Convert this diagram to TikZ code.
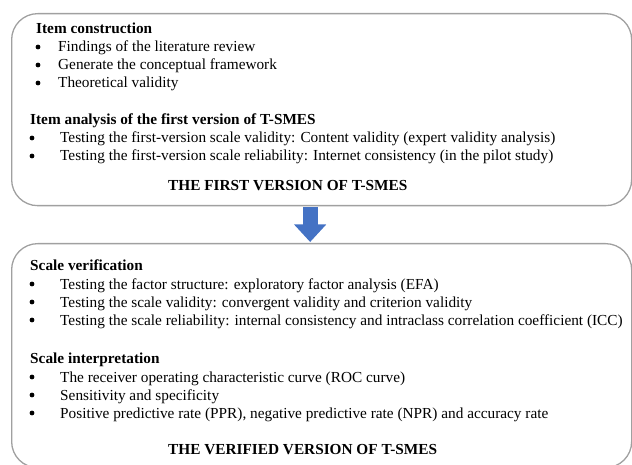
\documentclass[tikz,border=0pt]{standalone}
\usepackage{fontspec}
\setmainfont{Liberation Serif}
\usetikzlibrary{arrows.meta}
\definecolor{boxgray}{RGB}{160,160,160}
\definecolor{arrowblue}{RGB}{68,114,196}
\tikzset{
  stage/.style={draw=boxgray, line width=1.3pt, rounded corners=26pt, inner sep=0pt},
  head/.style={anchor=base west, inner sep=0pt, font=\fontsize{15.3}{18}\selectfont\bfseries},
  item/.style={anchor=base west, inner sep=0pt, font=\fontsize{15.3}{18}\selectfont},
  dot/.style={circle, fill, inner sep=0pt, minimum size=4.8pt},
  flow/.style={arrowblue, line width=15pt, -{Triangle[width=31pt,length=17.5pt]}}
}
\begin{document}
\begin{tikzpicture}[x=1pt,y=-1pt]
\useasboundingbox (0,0) rectangle (632,465);
% the two stages
\node[stage, anchor=north west, minimum width=620pt, minimum height=192pt] (first) at (11,13) {};
\node[stage, anchor=north west, minimum width=620pt, minimum height=224pt] (second) at (11,243) {};
\draw[flow] ([xshift=-11.5pt,yshift=-1pt]first.south) -- ([xshift=-11.5pt,yshift=1pt]second.north);
% first version
\node[head] (hc) at (36,34) {Item construction};
\foreach \y/\t [count=\i] in {52/Findings of the literature review,
    70/Generate the conceptual framework, 88/Theoretical validity}{
  \node[dot] (cd\i) at (38,\y-5) {};
  \node[item] (ct\i) at (58,\y) {\t};
}
\node[head] (ha) at (30,125) {Item analysis of the first version of T-SMES};
\foreach \y/\t [count=\i] in {143/{Testing the first-version scale validity: Content validity (expert validity analysis)},
    161/{Testing the first-version scale reliability: Internet consistency (in the pilot study)}}{
  \node[dot] (ad\i) at (32,\y-5) {};
  \node[item] (at\i) at (60,\y) {\t};
}
\node[head] (t1) at (168,191) {THE FIRST VERSION OF T-SMES};
% verified version
\node[head] (hv) at (30,270) {Scale verification};
\foreach \y/\t [count=\i] in {289/{Testing the factor structure: exploratory factor analysis (EFA)},
    307/{Testing the scale validity: convergent validity and criterion validity},
    325/{Testing the scale reliability: internal consistency and intraclass correlation coefficient (ICC)}}{
  \node[dot] (vd\i) at (32,\y-5) {};
  \node[item] (vt\i) at (60,\y) {\t};
}
\node[head] (hi) at (30,363) {Scale interpretation};
\foreach \y/\t [count=\i] in {382/{The receiver operating characteristic curve (ROC curve)},
    400/{Sensitivity and specificity},
    418/{Positive predictive rate (PPR), negative predictive rate (NPR) and accuracy rate}}{
  \node[dot] (id\i) at (32,\y-5) {};
  \node[item] (it\i) at (60,\y) {\t};
}
\node[head] (t2) at (168,454) {THE VERIFIED VERSION OF T-SMES};
\end{tikzpicture}
\end{document}
